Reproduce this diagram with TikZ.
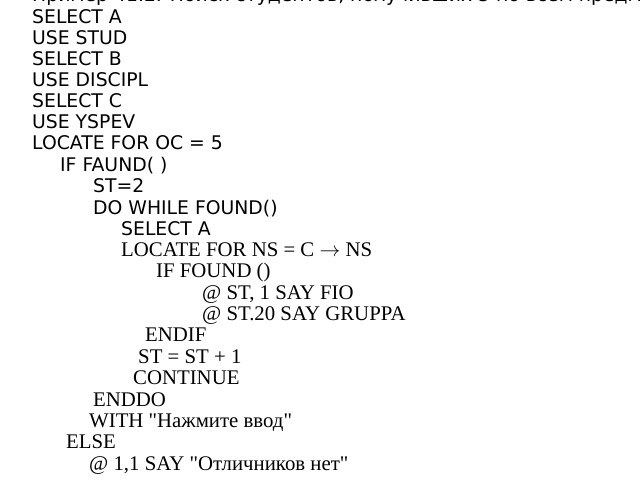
\documentclass[tikz,border=0pt]{standalone}
\usepackage{fontspec}
\setmainfont{DejaVu Sans}
\newfontfamily\serifcode{Liberation Serif}
\tikzset{
        codeline/.style = {anchor=base west, inner sep=0pt, font=\fontsize{18.8}{22}\selectfont},
        serifline/.style = {codeline, font=\fontsize{20.8}{24}\serifcode}
    }
\begin{document}
\begin{tikzpicture}[x=1pt,y=-1pt]
    \useasboundingbox (0,0) rectangle (640,480);
    \clip (0,0) rectangle (640,480);
    % sans lines
    \node [codeline] (title) at (32,1) {Пример 41.2. Поиск студентов, получивших 5 по всем предметам};
    \node [codeline] (selA) at (32,23) {SELECT A};
    \node [codeline] (useS) at (32,44) {USE STUD};
    \node [codeline] (selB) at (32,65) {SELECT B};
    \node [codeline] (useD) at (32,86) {USE DISCIPL};
    \node [codeline] (selC) at (32,107) {SELECT C};
    \node [codeline] (useY) at (32,128) {USE YSPEV};
    \node [codeline] (loc) at (32,149) {LOCATE FOR OC = 5};
    \node [codeline] (iff) at (60,171) {IF FAUND( )};
    \node [codeline] (st) at (93,192) {ST=2};
    \node [codeline] (dow) at (93,214) {DO WHILE FOUND()};
    \node [codeline] (selA2) at (121,235) {SELECT A};
    % serif lines
    \node [serifline] (locNS) at (121,256) {LOCATE FOR NS = C \(\rightarrow\) NS};
    \node [serifline] (iff2) at (156,277) {IF FOUND ()};
    \node [serifline] (say1) at (202,299) {@ ST, 1 SAY FIO};
    \node [serifline] (say2) at (202,320) {@ ST.20 SAY GRUPPA};
    \node [serifline] (endif) at (145,341) {ENDIF};
    \node [serifline] (inc) at (138,363) {ST = ST + 1};
    \node [serifline] (cont) at (133,384) {CONTINUE};
    \node [serifline] (enddo) at (93,406) {ENDDO};
    \node [serifline] (with) at (89,427) {WITH "Нажмите ввод"};
    \node [serifline] (else) at (66,448) {ELSE};
    \node [serifline] (say3) at (89,470) {@ 1,1 SAY "Отличников нет"};
\end{tikzpicture}
\end{document}
